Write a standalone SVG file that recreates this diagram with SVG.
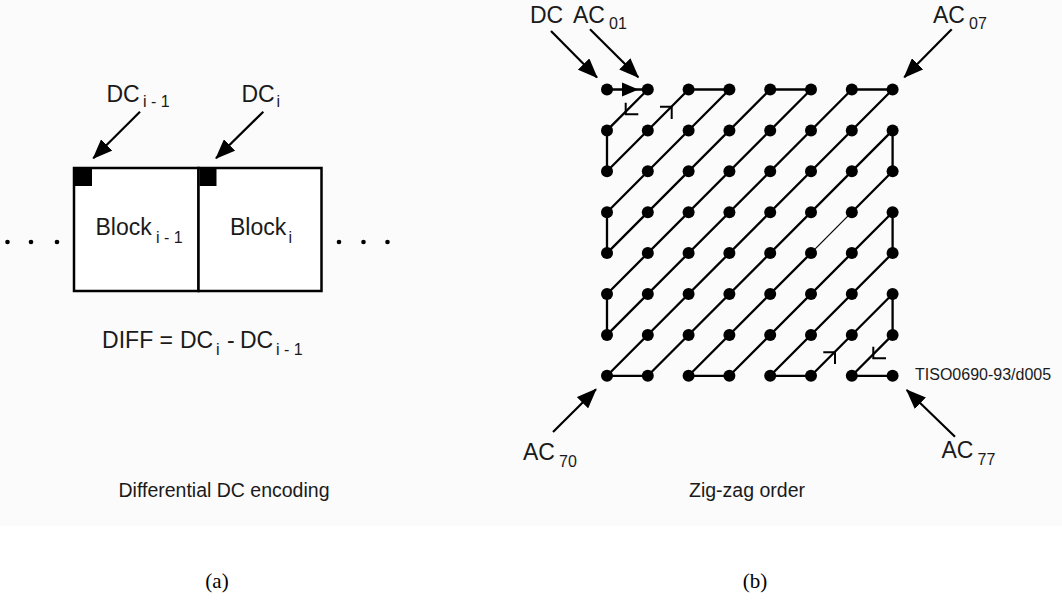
<svg xmlns="http://www.w3.org/2000/svg" width="1062" height="607" viewBox="0 0 1062 607">
<style>
.t{font-family:"Liberation Sans",Arial,sans-serif;fill:#1a1a1a;font-size:23px}
.s{font-size:16px}
.cap{font-family:"Liberation Sans",Arial,sans-serif;fill:#1a1a1a;font-size:19.5px}
.ser{font-family:"Liberation Serif","Times New Roman",serif;fill:#000;font-size:21px}
.arr{stroke:#000;stroke-width:2.2;fill:none;marker-end:url(#ah)}
.zz{stroke:#000;stroke-width:2.3;fill:none;stroke-linejoin:round}
.mk{stroke:#000;stroke-width:2;fill:none}
</style>
<defs>
<marker id="ah" viewBox="0 0 20 16" refX="19" refY="8" markerWidth="20" markerHeight="16" markerUnits="userSpaceOnUse" orient="auto">
<path d="M0,0 L20,8 L0,16 z" fill="#000"/>
</marker>
</defs>
<rect x="0" y="0" width="1062" height="526" fill="#fbfbfb"/>
<rect x="0" y="526" width="1062" height="81" fill="#fff"/>

<g id="panel-a">
<g id="block-prev">
<rect x="74" y="168" width="124.5" height="123" fill="#fff" stroke="#000" stroke-width="2.5"/>
<rect x="75" y="168" width="17" height="18" fill="#000"/>
<text class="t" x="95.5" y="235">Block<tspan class="s" x="156" y="243">i - 1</tspan></text>
</g>
<g id="block-cur">
<rect x="198.5" y="168" width="123" height="123" fill="#fff" stroke="#000" stroke-width="2.5"/>
<rect x="199.5" y="168" width="17" height="18" fill="#000"/>
<text class="t" x="230" y="235">Block<tspan class="s" x="288.5" y="243">i</tspan></text>
</g>
<g id="dots-left" fill="#000">
<circle cx="7.5" cy="242" r="2.3"/><circle cx="31" cy="242" r="2.3"/><circle cx="57" cy="242" r="2.3"/>
</g>
<g id="dots-right" fill="#000">
<circle cx="339" cy="242" r="2.3"/><circle cx="363.5" cy="242" r="2.3"/><circle cx="387.5" cy="242" r="2.3"/>
</g>
<g id="label-dc-prev"><text class="t" x="106.5" y="102">DC<tspan class="s" x="143" y="107">i - 1</tspan></text></g>
<g id="label-dc-cur"><text class="t" x="241.5" y="102">DC<tspan class="s" x="276.5" y="107">i</tspan></text></g>
<g id="connectors-a">
<line class="arr" x1="140" y1="111.7" x2="93.3" y2="158.3"/>
<line class="arr" x1="263.3" y1="111.7" x2="216" y2="158.3"/>
</g>
<g id="diff">
<text class="t" x="173" y="348" text-anchor="end">DIFF =</text>
<text class="t" x="180" y="348">DC<tspan class="s" x="216" y="355">i</tspan><tspan x="227" y="348">-</tspan><tspan x="240" y="348">DC</tspan><tspan class="s" x="276" y="355">i - 1</tspan></text>
</g>
<text class="cap" x="224" y="497" text-anchor="middle">Differential DC encoding</text>
<text class="ser" x="217" y="588" text-anchor="middle">(a)</text>
</g>

<g id="panel-b">
<g id="zigzag">
<path class="zz" d="M607,89.5 L647.8,89.5 L607,130.4 L607,171.3 L688.6,89.5 L729.4,89.5 L607,212.2 L607,253.1 L770.2,89.5 L811,89.5 L607,294 L607,334.9 L851.8,89.5 L892.6,89.5 L607,375.8 L647.8,375.8 L892.6,130.4 L892.6,171.3 L851.8,212.2 M811,253.1 L688.6,375.8 L729.4,375.8 L892.6,212.2 L892.6,253.1 L770.2,375.8 L811,375.8 L892.6,294 L892.6,334.9 L851.8,375.8 L892.6,375.8"/>
<line x1="851.8" y1="212.2" x2="811" y2="253.1" stroke="#000" stroke-width="1.2"/>
</g>
<g id="grid-dots" fill="#000">
<circle cx="607" cy="89.5" r="6"/><circle cx="647.8" cy="89.5" r="6"/><circle cx="688.6" cy="89.5" r="6"/><circle cx="729.4" cy="89.5" r="6"/><circle cx="770.2" cy="89.5" r="6"/><circle cx="811" cy="89.5" r="6"/><circle cx="851.8" cy="89.5" r="6"/><circle cx="892.6" cy="89.5" r="6"/>
<circle cx="607" cy="130.4" r="6"/><circle cx="647.8" cy="130.4" r="6"/><circle cx="688.6" cy="130.4" r="6"/><circle cx="729.4" cy="130.4" r="6"/><circle cx="770.2" cy="130.4" r="6"/><circle cx="811" cy="130.4" r="6"/><circle cx="851.8" cy="130.4" r="6"/><circle cx="892.6" cy="130.4" r="6"/>
<circle cx="607" cy="171.3" r="6"/><circle cx="647.8" cy="171.3" r="6"/><circle cx="688.6" cy="171.3" r="6"/><circle cx="729.4" cy="171.3" r="6"/><circle cx="770.2" cy="171.3" r="6"/><circle cx="811" cy="171.3" r="6"/><circle cx="851.8" cy="171.3" r="6"/><circle cx="892.6" cy="171.3" r="6"/>
<circle cx="607" cy="212.2" r="6"/><circle cx="647.8" cy="212.2" r="6"/><circle cx="688.6" cy="212.2" r="6"/><circle cx="729.4" cy="212.2" r="6"/><circle cx="770.2" cy="212.2" r="6"/><circle cx="811" cy="212.2" r="6"/><circle cx="851.8" cy="212.2" r="6"/><circle cx="892.6" cy="212.2" r="6"/>
<circle cx="607" cy="253.1" r="6"/><circle cx="647.8" cy="253.1" r="6"/><circle cx="688.6" cy="253.1" r="6"/><circle cx="729.4" cy="253.1" r="6"/><circle cx="770.2" cy="253.1" r="6"/><circle cx="811" cy="253.1" r="6"/><circle cx="851.8" cy="253.1" r="6"/><circle cx="892.6" cy="253.1" r="6"/>
<circle cx="607" cy="294" r="6"/><circle cx="647.8" cy="294" r="6"/><circle cx="688.6" cy="294" r="6"/><circle cx="729.4" cy="294" r="6"/><circle cx="770.2" cy="294" r="6"/><circle cx="811" cy="294" r="6"/><circle cx="851.8" cy="294" r="6"/><circle cx="892.6" cy="294" r="6"/>
<circle cx="607" cy="334.9" r="6"/><circle cx="647.8" cy="334.9" r="6"/><circle cx="688.6" cy="334.9" r="6"/><circle cx="729.4" cy="334.9" r="6"/><circle cx="770.2" cy="334.9" r="6"/><circle cx="811" cy="334.9" r="6"/><circle cx="851.8" cy="334.9" r="6"/><circle cx="892.6" cy="334.9" r="6"/>
<circle cx="607" cy="375.8" r="6"/><circle cx="647.8" cy="375.8" r="6"/><circle cx="688.6" cy="375.8" r="6"/><circle cx="729.4" cy="375.8" r="6"/><circle cx="770.2" cy="375.8" r="6"/><circle cx="811" cy="375.8" r="6"/><circle cx="851.8" cy="375.8" r="6"/><circle cx="892.6" cy="375.8" r="6"/>
</g>
<g id="direction-marks">
<polygon points="622,82.5 638.5,89.5 622,96.5" fill="#000"/>
<polyline class="mk" points="625.7,102.7 625.7,114.3 638.3,114.3"/>
<polyline class="mk" points="660,106.7 671.7,106.7 671.7,119"/>
<polyline class="mk" points="823.3,352.3 835,352.3 835,364"/>
<polyline class="mk" points="873.3,346.7 873.3,358.3 886,358.3"/>
</g>
<g id="label-dc"><text class="t" x="530" y="23">DC</text></g>
<g id="label-ac01"><text class="t" x="573" y="23">AC<tspan class="s" x="609" y="29">01</tspan></text></g>
<g id="label-ac07"><text class="t" x="933" y="23">AC<tspan class="s" x="969" y="29">07</tspan></text></g>
<g id="label-ac70"><text class="t" x="523" y="460">AC<tspan class="s" x="559" y="467">70</tspan></text></g>
<g id="label-ac77"><text class="t" x="941.5" y="458">AC<tspan class="s" x="977.5" y="465">77</tspan></text></g>
<g id="connectors-b">
<line class="arr" x1="551" y1="31" x2="597" y2="77.5"/>
<line class="arr" x1="590" y1="29.3" x2="638.3" y2="77.3"/>
<line class="arr" x1="951.7" y1="29.3" x2="904.3" y2="77.3"/>
<line class="arr" x1="553" y1="432" x2="596" y2="389.3"/>
<line class="arr" x1="955" y1="436.7" x2="906.7" y2="390"/>
</g>
<text class="t" x="915" y="380" style="font-size:16px">TISO0690-93/d005</text>
<text class="cap" x="747" y="497" text-anchor="middle">Zig-zag order</text>
<text class="ser" x="755" y="588" text-anchor="middle">(b)</text>
</g>
</svg>
